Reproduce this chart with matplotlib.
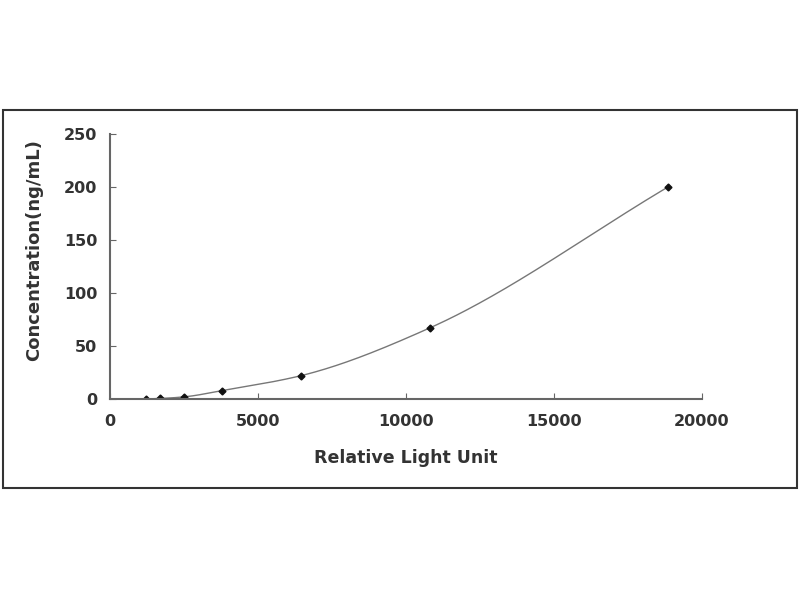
import numpy as np
import matplotlib
matplotlib.use("Agg")
import matplotlib.pyplot as plt
from matplotlib.patches import Rectangle

rlu = [1200, 1700, 2500, 3800, 6450, 10800, 18850]
conc = [0.0, 0.5, 2.0, 8.0, 22.0, 67.0, 200.0]
xticks = [0, 5000, 10000, 15000, 20000]
yticks = [0, 50, 100, 150, 200, 250]

def pchip(x, y, xs):
    x = np.asarray(x, float); y = np.asarray(y, float)
    h = np.diff(x); d = np.diff(y) / h
    n = len(x); m = np.zeros(n)
    for k in range(1, n - 1):
        if d[k-1] * d[k] > 0:
            w1 = 2*h[k] + h[k-1]; w2 = h[k] + 2*h[k-1]
            m[k] = (w1 + w2) / (w1/d[k-1] + w2/d[k])
    m[0] = d[0]; m[-1] = d[-1]
    out = np.empty_like(xs)
    for i, xv in enumerate(xs):
        k = min(max(np.searchsorted(x, xv) - 1, 0), n - 2)
        t = (xv - x[k]) / h[k]
        h00 = 2*t**3 - 3*t**2 + 1; h10 = t**3 - 2*t**2 + t
        h01 = -2*t**3 + 3*t**2; h11 = t**3 - t**2
        out[i] = h00*y[k] + h10*h[k]*m[k] + h01*y[k+1] + h11*h[k]*m[k+1]
    return out

FONT = "DejaVu Sans"
fig = plt.figure(figsize=(8, 6), dpi=100)
fig.patches.append(Rectangle((3/800, 112/600), 794/800, 378/600, transform=fig.transFigure,
                             fill=False, edgecolor="#333333", linewidth=1.5))
ax = fig.add_axes([110/800, 1-399/600, 592/800, 265/600])
xs = np.linspace(rlu[0], rlu[-1], 300)
ax.plot(xs, pchip(rlu, conc, xs), color="#777777", linewidth=1.0)
ax.plot(rlu, conc, linestyle="none", marker="D", markersize=3.5, color="#111111")
ax.set_xlim(0, 20000); ax.set_ylim(0, 250)
ax.set_xticks(xticks); ax.set_yticks(yticks)
for s in ["top", "right"]:
    ax.spines[s].set_visible(False)
for s in ["left", "bottom"]:
    ax.spines[s].set_color("#666666"); ax.spines[s].set_linewidth(1.5)
ax.tick_params(direction="in", length=4, color="#666666", labelsize=11.5, labelcolor="#333333")
ax.tick_params(axis="x", pad=11)
ax.tick_params(axis="y", pad=9)
for lab in ax.get_xticklabels() + ax.get_yticklabels():
    lab.set_fontweight("bold"); lab.set_family(FONT)
ax.set_xlabel("Relative Light Unit", fontsize=12.5, fontweight="bold", family=FONT, color="#333333", labelpad=14)
ax.set_ylabel("Concentration(ng/mL)", fontsize=13, fontweight="bold", family=FONT, color="#333333")
ax.yaxis.set_label_coords(-0.113, 0.562)
fig.savefig("out.png")
